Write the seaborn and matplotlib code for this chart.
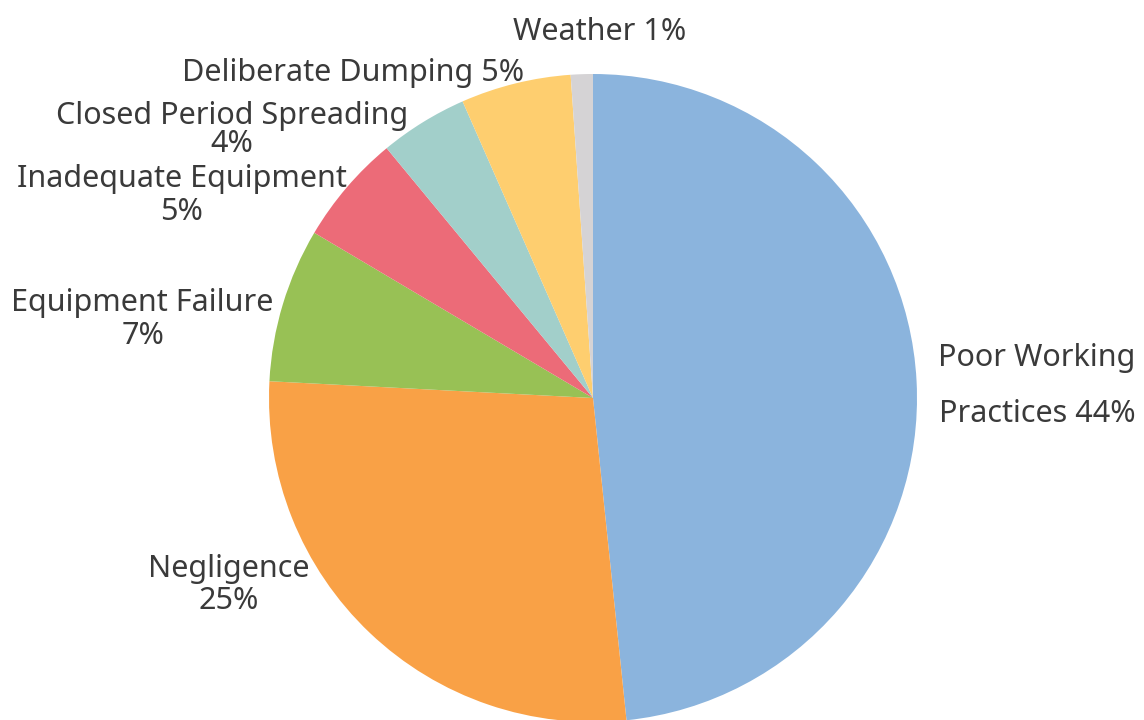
import matplotlib
matplotlib.use("Agg")
import matplotlib.pyplot as plt
import seaborn as sns

# Causes of pollution incidents (share of reported incidents, %)
categories = [
    "Poor Working\nPractices",
    "Negligence",
    "Equipment Failure",
    "Inadequate Equipment",
    "Closed Period Spreading",
    "Deliberate Dumping",
    "Weather",
]
values = [44, 25, 7, 5, 4, 5, 1]
separators = [" ", "\n", "\n", "\n", "\n", " ", " "]

colors = ["#8BB4DD", "#F9A146", "#98C155", "#EC6B78", "#A2CFCA", "#FECE6F", "#D5D3D5"]

# label centres, in units of the pie radius relative to the pie centre
label_pos = [
    (1.37, 0.037),
    (-1.125, -0.577),
    (-1.39, 0.243),
    (-1.27, 0.625),
    (-1.115, 0.826),
    (-0.74, 1.003),
    (0.02, 1.13),
]
label_spacing = [2.15, 1.12, 1.12, 1.12, 0.92, 1.0, 1.0]

sns.set_theme(style="white")
plt.rcParams["font.family"] = ["Noto Sans", "DejaVu Sans"]

W, H, DPI = 1144, 720, 100
cx, cy, R = 593, 398, 324

fig = plt.figure(figsize=(W / DPI, H / DPI), dpi=DPI)
ax = fig.add_axes([0, 0, 1, 1])

ax.pie(
    values,
    colors=colors,
    startangle=90,
    counterclock=False,
    wedgeprops=dict(linewidth=0, edgecolor="none"),
)

ax.set_xlim(-cx / R, (W - cx) / R)
ax.set_ylim(-(H - cy) / R, cy / R)
ax.set_aspect("equal")
ax.axis("off")

for cat, val, sep, (lx, ly), ls in zip(categories, values, separators, label_pos, label_spacing):
    ax.text(
        lx, ly, f"{cat}{sep}{val}%",
        ha="center", va="center", multialignment="center",
        fontsize=22, color="#3A3A3A", linespacing=ls,
    )

fig.savefig("out.png", dpi=DPI)
